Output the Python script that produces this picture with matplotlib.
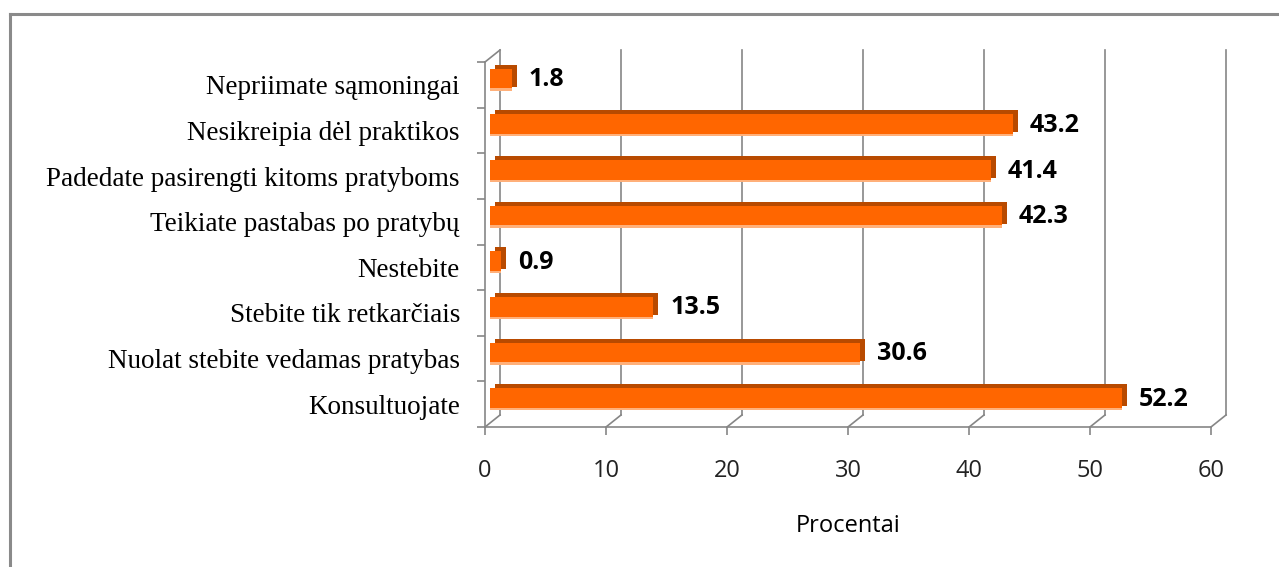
import matplotlib.pyplot as plt
from matplotlib.lines import Line2D
from matplotlib.transforms import offset_copy

# data (bottom to top, as drawn)
categories = ['Konsultuojate', 'Nuolat stebite vedamas pratybas', 'Stebite tik retkarčiais',
              'Nestebite', 'Teikiate pastabas po pratybų', 'Padedate pasirengti kitoms pratyboms',
              'Nesikreipia dėl praktikos', 'Nepriimate sąmoningai']
values = [52.2, 30.6, 13.5, 0.9, 42.3, 41.4, 43.2, 1.8]
xticks = [0, 10, 20, 30, 40, 50, 60]
xlabel = 'Procentai'

W, H = 1279, 567
fig = plt.figure(figsize=(W / 100, H / 100), dpi=100)
fig.patch.set_facecolor('white')

# front plane of the 3d box, in pixels
left, right, bottom, top = 485, 1211, 427, 62
ax = fig.add_axes([left / W, 1 - bottom / H, (right - left) / W, (bottom - top) / H])
ax.set_xlim(0, 60)
ax.set_ylim(-0.5, len(categories) - 0.5)
ax.patch.set_alpha(0)

grey = '#868686'
orange = '#FF6600'
dark = '#B84A00'
light = '#FFB07A'

# depth of the box (pixels) converted to data units
depth_x, depth_y = 15, 12
ux = (right - left) / 60
uy = (bottom - top) / len(categories)
ddx, ddy = depth_x / ux, depth_y / uy
y0, y1 = -0.5, len(categories) - 0.5

# back wall gridlines + floor diagonals
for x in xticks:
    ax.plot([x + ddx, x + ddx], [y0 + ddy, y1 + ddy], color=grey, lw=1.2, zorder=1, clip_on=False)
    ax.plot([x, x + ddx], [y0, y0 + ddy], color=grey, lw=1.2, zorder=1, clip_on=False)
ax.plot([0, ddx], [y1, y1 + ddy], color=grey, lw=1.2, zorder=1, clip_on=False)

# bars with a darker extrusion behind them
ypos = list(range(len(categories)))
h = 0.48
t_bar = offset_copy(ax.transData, fig=fig, x=5, y=5, units='dots')
t_side = offset_copy(ax.transData, fig=fig, x=10, y=9, units='dots')
ax.barh(ypos, values, height=h, color=dark, transform=t_side, zorder=2)
ax.barh(ypos, values, height=h, color=orange, transform=t_bar, zorder=3)
ax.barh([y - h / 2 for y in ypos], values, height=0.05, align='edge', color=light,
        transform=t_bar, zorder=3.5)

t_lab = offset_copy(ax.transData, fig=fig, x=22, y=5, units='dots')
for y, v in zip(ypos, values):
    ax.text(v, y, f'{v}', transform=t_lab, va='center', ha='left',
            fontsize=18, fontweight='bold', family='Open Sans', color='black', zorder=4)

# spines and ticks
for s in ['top', 'right']:
    ax.spines[s].set_visible(False)
for s in ['left', 'bottom']:
    ax.spines[s].set_color(grey)
    ax.spines[s].set_linewidth(1.2)

ax.set_xticks(xticks)
ax.set_xticklabels([str(x) for x in xticks], family='Open Sans', fontsize=17, color='#222222')
ax.tick_params(axis='x', direction='out', length=6, width=1.2, color=grey, pad=17)

ax.set_yticks(ypos)
ax.set_yticklabels(categories, family='Liberation Serif', fontsize=19.5)
ax.set_yticks([y - 0.5 for y in range(len(categories) + 1)], minor=True)
ax.tick_params(axis='y', which='major', length=0, pad=18)
ax.tick_params(axis='y', which='minor', direction='out', length=6, width=1.2, color=grey)

ax.set_xlabel(xlabel, family='Open Sans', fontsize=17, labelpad=22)

# outer chart border (only top and left visible)
fig.add_artist(Line2D([9.5 / W, 9.5 / W], [0, 1 - 13.5 / H], transform=fig.transFigure, color='#8a8a8a', lw=2.2))
fig.add_artist(Line2D([9.5 / W, 1], [1 - 13.5 / H, 1 - 13.5 / H], transform=fig.transFigure, color='#8a8a8a', lw=2.2))

fig.savefig('out.png', dpi=100, facecolor='white')
